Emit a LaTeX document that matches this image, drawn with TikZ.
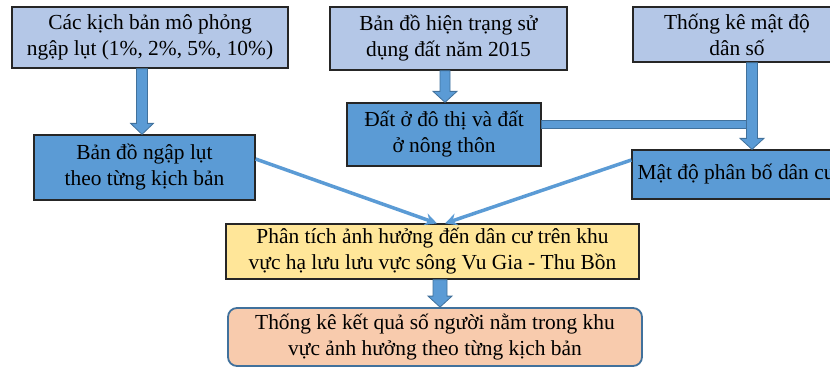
\documentclass[tikz,border=0pt]{standalone}
\usepackage{fontspec}
\setmainfont{Liberation Serif}
\usetikzlibrary{calc,arrows.meta}
\definecolor{lblue}{HTML}{B4C7E7}
\definecolor{mblue}{HTML}{5B9BD5}
\definecolor{dblue}{HTML}{41719C}
\definecolor{lyel}{HTML}{FFE699}
\definecolor{salm}{HTML}{F8CBAD}
\definecolor{edgec}{HTML}{262626}
\newcommand\vblk[5]{%
 \coordinate (vs) at (#1 -| #3,0);
 \coordinate (ve) at (#2 -| #3,0);
 \filldraw[blockarr] ($(vs)+(-#4,0)$) -- ($(vs)+(#4,0)$) -- ($(ve)+(#4,-11)$) -- ($(ve)+(#5,-11)$) -- (ve) -- ($(ve)+(-#5,-11)$) -- ($(ve)+(-#4,-11)$) -- cycle;}
\begin{document}
\begin{tikzpicture}[x=1bp,y=-1bp,
 box/.style={draw=edgec,line width=1.3bp,inner sep=0pt,align=center,font=\fontsize{21.5}{26}\selectfont},
 lb/.style={box,fill=lblue},
 mb/.style={box,fill=mblue},
 yb/.style={box,fill=lyel},
 sb/.style={box,fill=salm,draw=dblue,line width=1.8bp,rounded corners=9bp},
 blockarr/.style={fill=mblue,draw=dblue,line width=0.8bp},
 conn/.style={draw=mblue,line width=3.5bp,-{Stealth[length=12bp,width=12bp]}}]
\clip (0,0) rectangle (830,368);
\node[lb,minimum width=276bp,minimum height=61bp] (b1) at (150,37.5) {Các kịch bản mô phỏng\\ngập lụt (1\%, 2\%, 5\%, 10\%)};
\node[mb,minimum width=221bp,minimum height=65bp] (b2) at (144.5,167.5) {Bản đồ ngập lụt\\theo từng kịch bản};
\node[lb,minimum width=237bp,minimum height=63bp] (b3) at (448.5,38.5) {Bản đồ hiện trạng sử\\dụng đất năm 2015};
\node[mb,minimum width=194bp,minimum height=63bp] (b4) at (444,134.5) {Đất ở đô thị và đất\\ở nông thôn};
\node[lb,minimum width=208bp,minimum height=55bp] (b5) at (737,34.5) {Thống kê mật độ\\dân số};
\node[mb,minimum width=209bp,minimum height=49bp] (b6) at (736.5,174.5) {Mật độ phân bố dân cư};
\node[yb,minimum width=413bp,minimum height=55bp] (b7) at (432.5,251.5) {Phân tích ảnh hưởng đến dân cư trên khu\\vực hạ lưu lưu vực sông Vu Gia - Thu Bồn};
\node[sb,minimum width=414bp,minimum height=58bp] (b8) at (435,337) {Thống kê kết quả số người nằm trong khu\\vực ảnh hưởng theo từng kịch bản};
\vblk{b1.south}{b2.north}{142}{5.5}{11.5}
\vblk{b3.south}{b4.north}{445}{5}{12}
\filldraw[blockarr] (b4.east |- 0,120) rectangle (749,128);
\vblk{b5.south}{b6.north}{752}{5.5}{12}
\vblk{b7.south}{b8.north}{440}{7}{12}
\draw[conn] ([yshift=8.5bp]b2.east) -- ([xshift=4.5bp]b7.north);
\draw[conn] ([yshift=14.5bp]b6.west) -- ([xshift=12.5bp]b7.north);
\end{tikzpicture}
\end{document}
